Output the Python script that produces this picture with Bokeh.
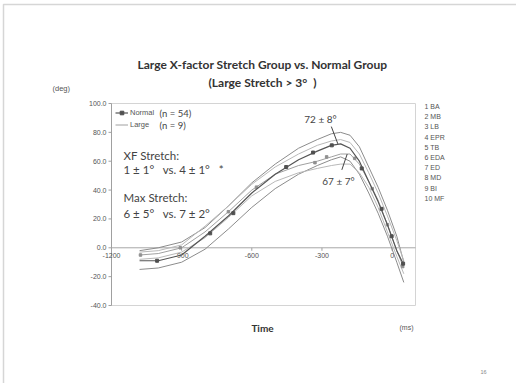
import numpy as np
from bokeh.plotting import figure
from bokeh.models import Label, Legend, LegendItem, BoxAnnotation, Range1d
from bokeh.embed import file_html
from bokeh.resources import INLINE

# ---- data ----
time = [-1080, -1000, -900, -800, -700, -600, -500, -400, -320, -260, -220, -180, -140, -100, -60, -20, 20, 50]
normal_mean = [-9, -9, -5, 8, 22, 38, 51, 61, 67, 71, 72, 69, 60, 46, 32, 16, -2, -12]
normal_upper = [-2, 0, 4, 14, 29, 45, 58, 69, 75, 79, 80, 78, 70, 56, 42, 26, 8, -10]
normal_lower = [-15, -14, -10, -1, 13, 28, 41, 51, 57, 61, 63, 60, 51, 38, 24, 8, -10, -24]
large_mean = [-5, -4, 0, 11, 25, 40, 51, 57, 60, 63, 65, 65, 58, 46, 33, 16, -2, -14]
large_upper = [-3, -2, 2, 15, 29, 44, 56, 65, 71, 74, 75, 73, 65, 52, 38, 22, 5, -9]
large_lower = [-8, -7, -3, 7, 21, 36, 46, 52, 55, 57, 58, 58, 52, 42, 28, 11, -6, -18]

normal_event_t = [-1005, -778, -679, -453, -338, -258, -130, -45, -2, 47]
normal_event_v = [-9, 10, 24, 56, 66, 71, 55, 27, 8, -11]
large_event_t = [-1076, -906, -700, -580, -330, -280, -160, -85, -20, 45]
large_event_v = [-5, 0, 25, 42, 59, 63, 62, 41, 16, -13]

event_names = ["1 BA", "2 MB", "3 LB", "4 EPR", "5 TB", "6 EDA", "7 ED", "8 MD", "9 BI", "10 MF"]
x_ticks = [-1200, -900, -600, -300, 0]
x_tick_labels = ["-1200", "-900", "-600", "-300", "0"]
y_ticks = [100, 80, 60, 40, 20, 0, -20, -40]
y_tick_labels = ["100.0", "80.0", "60.0", "40.0", "20.0", "0.0", "-20.0", "-40.0"]
X_MIN, X_MAX, Y_MIN, Y_MAX = -1200, 100, -40, 100

NB = "\u00a0"
title1 = "Large X-factor Stretch Group vs. Normal Group"
title2 = "(Large Stretch > 3°" + NB * 2 + ")"
xf_line = "1 ± 1°" + NB * 3 + "vs. 4 ± 1°" + NB * 3 + "*"
max_line = "6 ± 5°" + NB * 3 + "vs. 7 ± 2°"
normal_peak_text = "72 ± 8°"
large_peak_text = "67 ± 7°"

CAL = "Lato"
ARI = "Liberation Sans"
W, H = 516, 383
# chart box in the page (pixels)
BX_L, BX_R, BY_T, BY_B = 111, 415, 103, 305
kx = (X_MAX - X_MIN) / (BX_R - BX_L)
ky = (Y_MAX - Y_MIN) / (BY_B - BY_T)

p = figure(width=W, height=H, output_backend="svg", toolbar_location=None, title=None,
           x_range=Range1d(X_MIN - BX_L * kx, X_MAX + (W - BX_R) * kx),
           y_range=Range1d(Y_MIN - (H - BY_B) * ky, Y_MAX + BY_T * ky),
           x_axis_type=None, y_axis_type=None,
           min_border_left=0, min_border_right=0, min_border_top=0, min_border_bottom=0)
p.outline_line_color = None
p.background_fill_color = "white"
p.border_fill_color = "white"

# chart box and axis
p.quad(left=[X_MIN], right=[X_MAX], bottom=[Y_MIN], top=[Y_MAX], fill_alpha=0,
       line_color="#d4d4d4", line_width=1)
p.segment(x0=[X_MIN], y0=[Y_MIN], x1=[X_MIN], y1=[Y_MAX], line_color="#a0a0a0", line_width=1)
p.ray(x=[X_MIN] * len(y_ticks), y=y_ticks, length=3, length_units="screen", angle=np.pi,
      line_color="#a0a0a0", line_width=1)
for t, s in zip(y_ticks, y_tick_labels):
    p.add_layout(Label(x=X_MIN, y=t, x_offset=-5, text=s, text_align="right", text_baseline="middle",
                       text_font=ARI, text_font_size="7px", text_color="#555555"))

p.segment(x0=[X_MIN], y0=[0], x1=[X_MAX], y1=[0], line_color="#a8a8a8", line_width=1)
p.ray(x=x_ticks, y=[0] * len(x_ticks), length=3, length_units="screen", angle=-np.pi / 2,
      line_color="#a0a0a0", line_width=1)
for t, s in zip(x_ticks, x_tick_labels):
    p.add_layout(Label(x=t, y=0, y_offset=-5, text=s, text_align="center", text_baseline="top",
                       text_font=ARI, text_font_size="7px", text_color="#555555"))

# curves
p.line(time, normal_upper, line_color="#8c8c8c", line_width=1)
p.line(time, normal_lower, line_color="#8c8c8c", line_width=1)
p.line(time, large_upper, line_color="#b8b8b8", line_width=1)
p.line(time, large_lower, line_color="#b8b8b8", line_width=1)
l_large = p.line(time, large_mean, line_color="#a0a0a0", line_width=1)
s_large = p.scatter(large_event_t, large_event_v, marker="square", size=2.5,
                    fill_color="#909090", line_color="#909090")
l_norm = p.line(time, normal_mean, line_color="#555555", line_width=1.2)
s_norm = p.scatter(normal_event_t, normal_event_v, marker="square", size=3,
                   fill_color="#505050", line_color="#505050")

leg = Legend(items=[LegendItem(label="Normal", renderers=[l_norm, s_norm]),
                    LegendItem(label="Large", renderers=[l_large])],
             location=(115, 254), margin=0, padding=0, spacing=3,
             glyph_width=13, glyph_height=9, label_height=9, label_standoff=2,
             label_text_font=ARI, label_text_font_size="7.5px", label_text_color="#555555",
             border_line_alpha=0, background_fill_alpha=0)
p.add_layout(leg)

def lab(text, x, y, size, align="left", bold=False, color="#444444", font=CAL):
    # x, y: page pixels from top-left
    p.add_layout(Label(x=x, y=H - y, x_units="screen", y_units="screen", text=text,
                       text_align=align, text_baseline="middle", text_font=font,
                       text_font_size=size, text_font_style="bold" if bold else "normal",
                       text_color=color))

lab("(n = 54)", 159, 113, "9.5px")
lab("(n = 9)", 159, 125, "9.5px")
lab("XF Stretch:", 123, 155, "11.5px")
lab(xf_line, 123, 169, "11.5px")
lab("Max Stretch:", 123, 197, "11.5px")
lab(max_line, 123, 213, "11.5px")
lab(normal_peak_text, 320, 118, "10px", align="center")
lab(large_peak_text, 338, 180, "10px", align="center")
lab(title1, 262, 64, "12px", align="center", bold=True, color="#333333")
lab(title2, 262, 82, "12px", align="center", bold=True, color="#333333")
lab("Time", 262, 327, "10px", align="center", bold=True, color="#333333")
lab("(ms)", 406, 327, "7px", align="center", font=ARI, color="#555555")
lab("(deg)", 52, 88, "7.5px", font=ARI, color="#555555")
lab("16", 483, 371, "5.5px", align="center", font=ARI, color="#888888")
for i, name in enumerate(event_names):
    lab(name, 424, 106 + i * 10.2, "7px", font=ARI, color="#555555")

# pointer lines to the peaks
ni = int(np.argmax(normal_mean))
li = int(np.argmax(large_mean))
p.segment(x0=[time[ni] - 40], y0=[normal_mean[ni] + 12], x1=[time[ni] - 12], y1=[normal_mean[ni]],
          line_color="#444444", line_width=1)
p.segment(x0=[time[li] + 5], y0=[large_mean[li] - 11], x1=[time[li] + 28], y1=[large_mean[li]],
          line_color="#444444", line_width=1)

# slide border
p.add_layout(BoxAnnotation(left=3, right=2000, top=H - 4, bottom=-2000,
                           left_units="screen", right_units="screen", top_units="screen",
                           bottom_units="screen", fill_alpha=0, line_color="#777777", line_width=1.5))

open("out.html", "w").write(file_html(p, INLINE))
